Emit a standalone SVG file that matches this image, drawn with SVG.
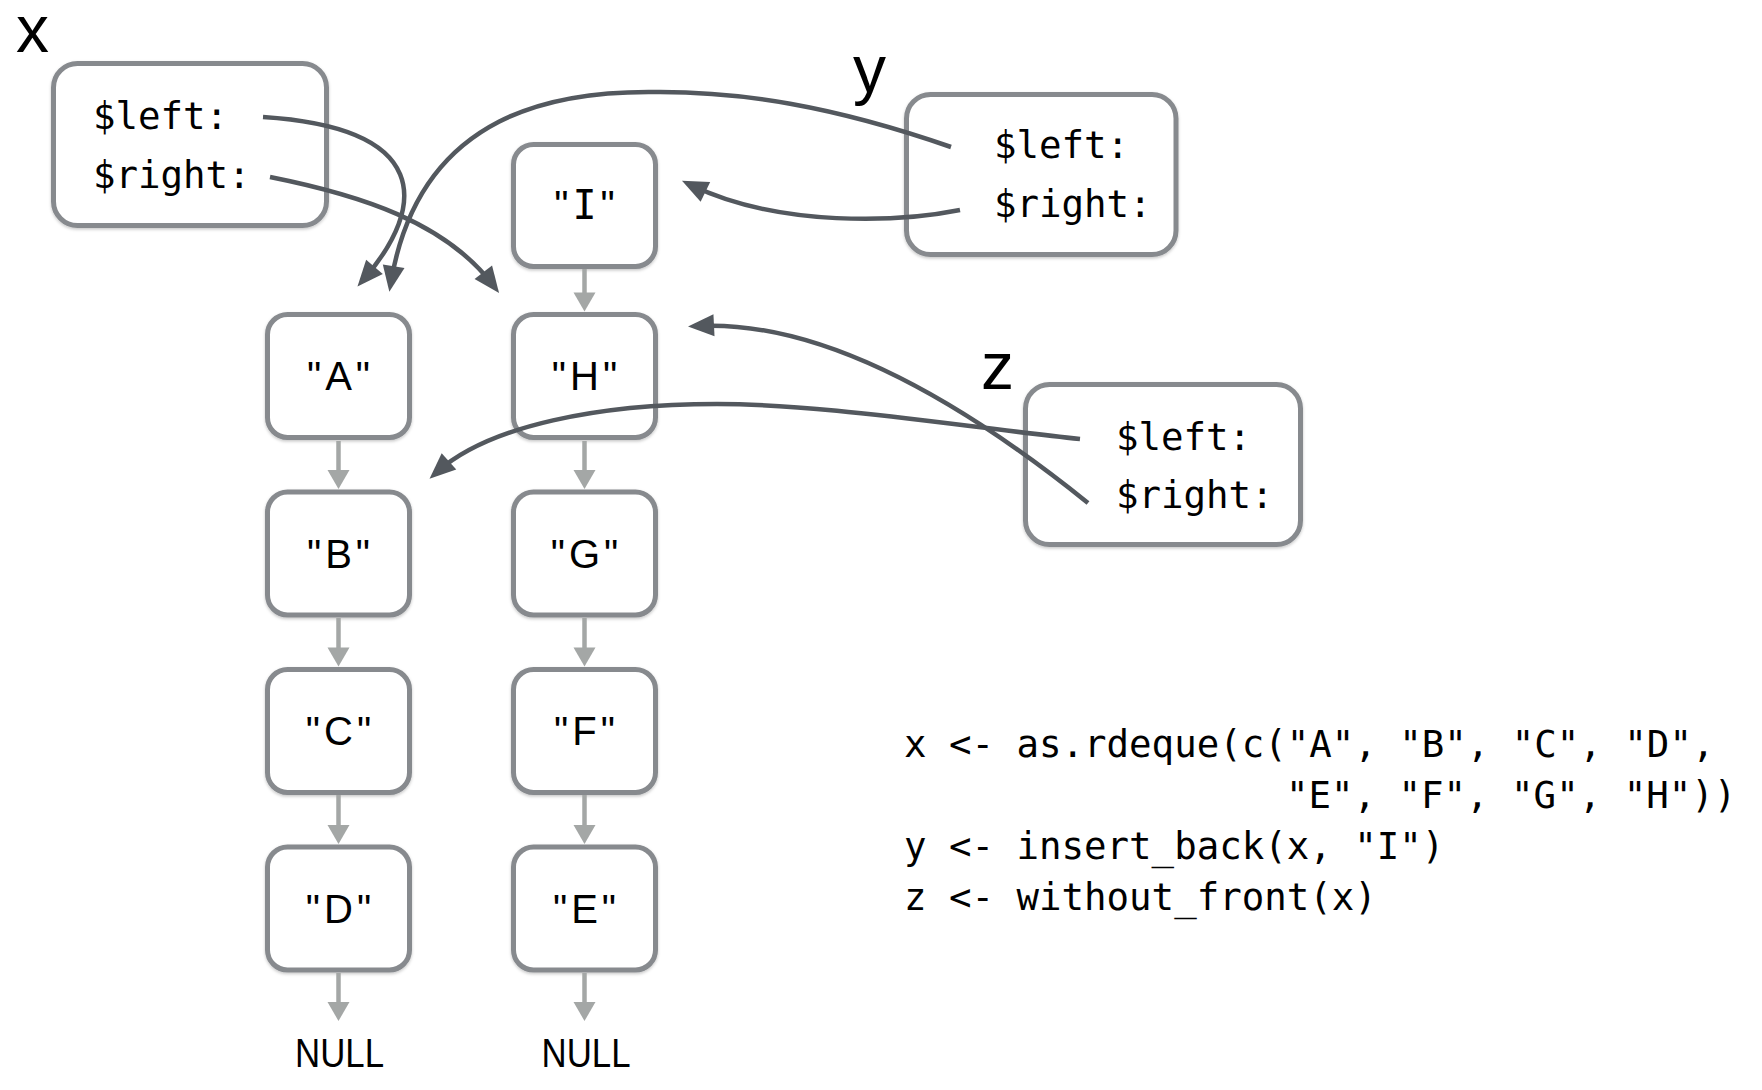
<svg xmlns="http://www.w3.org/2000/svg" width="1762" height="1090" viewBox="0 0 1762 1090">
  <style>
    .box { fill: #ffffff; stroke: #878a8e; stroke-width: 5; }
    .lbl { font-family: "Liberation Sans", Arial, sans-serif; font-size: 66px; fill: #000; }
    .mono { font-family: "DejaVu Sans Mono", "Liberation Mono", monospace; font-size: 37.4px; fill: #000; }
    .val { font-family: "Liberation Sans", Arial, sans-serif; font-size: 40px; letter-spacing: 4px; fill: #000; text-anchor: middle; }
    .null { font-family: "Liberation Sans", Arial, sans-serif; font-size: 40px; fill: #000; text-anchor: middle; }
    .ptr { fill: none; stroke: #53585e; stroke-width: 4.5; marker-end: url(#darkHead); }
    .nxt { fill: none; stroke: #a4a7a6; stroke-width: 4.5; marker-end: url(#greyHead); }
  </style>
  <defs>
    <filter id="sh" x="-10%" y="-10%" width="120%" height="125%">
      <feDropShadow dx="0" dy="1.5" stdDeviation="1.5" flood-color="#000" flood-opacity="0.22"/>
    </filter>
    <marker id="darkHead" markerUnits="userSpaceOnUse" markerWidth="30" markerHeight="30" refX="16" refY="11" orient="auto" overflow="visible">
      <path d="M0,0 L26,11 L0,22 z" fill="#53585e"/>
    </marker>
    <marker id="greyHead" markerUnits="userSpaceOnUse" markerWidth="30" markerHeight="30" refX="11" refY="11" orient="auto" overflow="visible">
      <path d="M0,0 L19,11 L0,22 z" fill="#a4a7a6"/>
    </marker>
  </defs>
  <rect width="1762" height="1090" fill="#ffffff"/>

  <!-- x deque -->
  <g id="x">
    <text class="lbl" x="16" y="52">x</text>
    <rect class="box" filter="url(#sh)" x="53.5" y="63.5" width="273" height="162" rx="24"/>
    <text class="mono" x="93" y="129">$left:</text>
    <text class="mono" x="93" y="188">$right:</text>
  </g>

  <!-- y deque -->
  <g id="y">
    <text class="lbl" x="853" y="92">y</text>
    <rect class="box" filter="url(#sh)" x="906.5" y="94.5" width="269.5" height="160" rx="24"/>
    <text class="mono" x="994" y="158">$left:</text>
    <text class="mono" x="994" y="217">$right:</text>
  </g>

  <!-- z deque -->
  <g id="z">
    <text class="lbl" x="981" y="389">z</text>
    <rect class="box" filter="url(#sh)" x="1025.5" y="384.5" width="275" height="160" rx="24"/>
    <text class="mono" x="1116" y="450">$left:</text>
    <text class="mono" x="1116" y="508">$right:</text>
  </g>

  <!-- list cells, column 1 -->
  <g id="nodeA">
    <rect class="box" filter="url(#sh)" x="267.5" y="314.5" width="142" height="123" rx="20"/>
    <text class="val" x="340.5" y="390">"A"</text>
  </g>
  <g id="nodeB">
    <rect class="box" filter="url(#sh)" x="267.5" y="492" width="142" height="123" rx="20"/>
    <text class="val" x="340.5" y="567.5">"B"</text>
  </g>
  <g id="nodeC">
    <rect class="box" filter="url(#sh)" x="267.5" y="669.5" width="142" height="123" rx="20"/>
    <text class="val" x="340.5" y="745">"C"</text>
  </g>
  <g id="nodeD">
    <rect class="box" filter="url(#sh)" x="267.5" y="847" width="142" height="123" rx="20"/>
    <text class="val" x="340.5" y="923">"D"</text>
  </g>
  <g id="null1">
    <text class="null" x="339.5" y="1067" textLength="89" lengthAdjust="spacingAndGlyphs">NULL</text>
  </g>

  <!-- list cells, column 2 -->
  <g id="nodeI">
    <rect class="box" filter="url(#sh)" x="513.5" y="144.5" width="142" height="122" rx="20"/>
    <text class="val" x="586.5" y="219">"<tspan font-family="DejaVu Sans Mono, monospace">I</tspan>"</text>
  </g>
  <g id="nodeH">
    <rect class="box" filter="url(#sh)" x="513.5" y="314.5" width="142" height="123" rx="20"/>
    <text class="val" x="586.5" y="390">"H"</text>
  </g>
  <g id="nodeG">
    <rect class="box" filter="url(#sh)" x="513.5" y="492" width="142" height="123" rx="20"/>
    <text class="val" x="586.5" y="567.5">"G"</text>
  </g>
  <g id="nodeF">
    <rect class="box" filter="url(#sh)" x="513.5" y="669.5" width="142" height="123" rx="20"/>
    <text class="val" x="586.5" y="745">"F"</text>
  </g>
  <g id="nodeE">
    <rect class="box" filter="url(#sh)" x="513.5" y="847" width="142" height="123" rx="20"/>
    <text class="val" x="586.5" y="923">"E"</text>
  </g>
  <g id="null2">
    <text class="null" x="586" y="1067" textLength="89" lengthAdjust="spacingAndGlyphs">NULL</text>
  </g>

  <!-- code -->
  <g id="code">
    <text class="mono" x="904" y="757">x &lt;- as.rdeque(c("A", "B", "C", "D",</text>
    <text class="mono" x="1286" y="808">"E", "F", "G", "H"))</text>
    <text class="mono" x="904" y="859">y &lt;- insert_back(x, "I")</text>
    <text class="mono" x="904" y="910">z &lt;- without_front(x)</text>
  </g>

  <!-- connectors -->
  <g id="connectors">
    <line class="nxt" x1="338.5" y1="441" x2="338.5" y2="481"/>
    <line class="nxt" x1="338.5" y1="618" x2="338.5" y2="658.5"/>
    <line class="nxt" x1="338.5" y1="795" x2="338.5" y2="836"/>
    <line class="nxt" x1="338.5" y1="973" x2="338.5" y2="1013"/>
    <line class="nxt" x1="584.5" y1="269" x2="584.5" y2="303.5"/>
    <line class="nxt" x1="584.5" y1="441" x2="584.5" y2="481"/>
    <line class="nxt" x1="584.5" y1="618" x2="584.5" y2="658.5"/>
    <line class="nxt" x1="584.5" y1="795" x2="584.5" y2="836"/>
    <line class="nxt" x1="584.5" y1="973" x2="584.5" y2="1013"/>

    <path class="ptr" d="M263,117 C430,128 428,205 364,279"/>
    <path class="ptr" d="M270,177 C360,195 445,222 493,285"/>
    <path class="ptr" d="M951,147 C830,105 740,92 660,92 C560,90 420,110 391,282"/>
    <path class="ptr" d="M960,210 C900,222 780,228 691,185"/>
    <path class="ptr" d="M1080,439 C950,425 820,404 717,404 C600,404 490,425 437,472"/>
    <path class="ptr" d="M1088,503 C960,400 820,320 698,326"/>
  </g>
</svg>
